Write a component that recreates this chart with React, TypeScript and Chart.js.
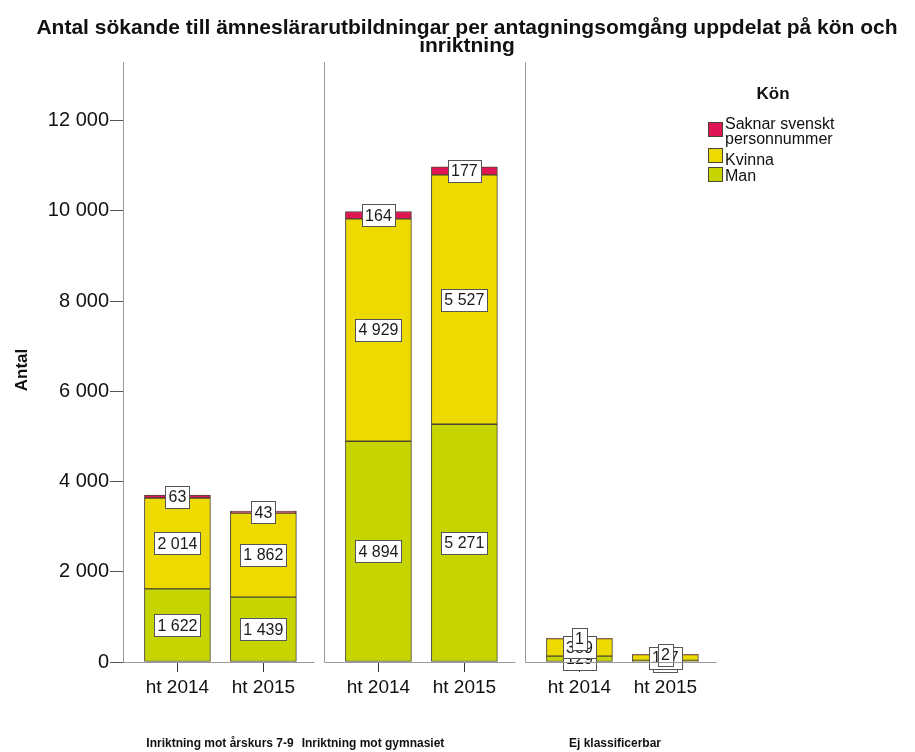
import React, { useEffect, useRef } from 'react';
import { Chart, registerables } from 'chart.js';

Chart.register(...registerables);

// ---------- data ----------
const categories = ['ht 2014', 'ht 2015'];
const panels = ['Inriktning mot årskurs 7-9', 'Inriktning mot gymnasiet', 'Ej klassificerbar'];
const seriesNames = ['Man', 'Kvinna', 'Saknar svenskt personnummer'];
const manValues = [1622, 1439, 4894, 5271, 129, 35];
const kvinnaValues = [2014, 1862, 4929, 5527, 389, 127];
const saknarValues = [63, 43, 164, 177, 1, 2];
const yTickValues = [0, 2000, 4000, 6000, 8000, 10000, 12000];

// ---------- layout / style ----------
const FONT = 'Arial, "Liberation Sans", Helvetica, sans-serif';
const CANVAS_W = 915;
const CANVAS_H = 752;
const AREA_LEFT = 123;
const AREA_RIGHT = 715;
const AREA_TOP = 62;
const AREA_BOTTOM = 662;
const X_MAX = AREA_RIGHT - AREA_LEFT;
const PANEL_STARTS = [0, 201, 402];
const PANEL_W = 191;
const BAR_FRAC = [0.285, 0.735];
const PANEL_LABEL_X = [97, 250, 492];
const Y_MAX = 13300;

const COLORS = {
  man: '#c6d500',
  kvinna: '#ecda00',
  saknar: '#df1654',
  border: '#4a4432',
  axis: '#9a9a9a',
};

const fmt = (v: number) => String(Math.round(v)).replace(/\B(?=(\d{3})+(?!\d))/g, ' ');

const barX = (i: number) => PANEL_STARTS[Math.floor(i / 2)] + BAR_FRAC[i % 2] * PANEL_W;
const toPoints = (vals: number[]) => vals.map((v, i) => ({ x: barX(i), y: v }));

const panelPlugin = {
  id: 'panelPlugin',
  afterDraw(chart: any) {
    const { ctx, chartArea, scales } = chart;
    const xs = scales.x;
    const y0 = scales.y.getPixelForValue(0);
    ctx.save();
    ctx.strokeStyle = COLORS.axis;
    ctx.lineWidth = 1;
    PANEL_STARTS.forEach((s) => {
      const x1 = Math.round(xs.getPixelForValue(s)) + 0.5;
      const x2 = Math.round(xs.getPixelForValue(s + PANEL_W)) + 0.5;
      ctx.beginPath();
      ctx.moveTo(x1, chartArea.top);
      ctx.lineTo(x1, Math.round(y0) + 0.5);
      ctx.lineTo(x2, Math.round(y0) + 0.5);
      ctx.stroke();
    });
    ctx.fillStyle = '#111';
    ctx.font = `bold 12px ${FONT}`;
    ctx.textAlign = 'center';
    ctx.textBaseline = 'middle';
    panels.forEach((label, p) => {
      ctx.fillText(label, xs.getPixelForValue(PANEL_LABEL_X[p]), 744);
    });
    // y axis title
    ctx.save();
    ctx.translate(22, 370);
    ctx.rotate(-Math.PI / 2);
    ctx.font = `bold 17px ${FONT}`;
    ctx.fillText('Antal', 0, 0);
    ctx.restore();
    ctx.restore();
  },
};

const labelPlugin = {
  id: 'labelPlugin',
  afterDatasetsDraw(chart: any) {
    const { ctx } = chart;
    ctx.save();
    ctx.font = `16px ${FONT}`;
    ctx.textAlign = 'center';
    ctx.textBaseline = 'middle';
    chart.data.datasets.forEach((ds: any, di: number) => {
      const meta = chart.getDatasetMeta(di);
      meta.data.forEach((el: any, i: number) => {
        const v = ds.data[i].y;
        const text = fmt(v);
        const cx = el.x;
        const cy = (el.y + el.base) / 2;
        const w = Math.round(ctx.measureText(text).width + 6);
        const h = 22;
        const bx = Math.round(cx - w / 2) + 0.5;
        const by = Math.round(cy - h / 2) + 0.5;
        ctx.fillStyle = '#ffffff';
        ctx.fillRect(bx, by, w, h);
        ctx.strokeStyle = '#555';
        ctx.lineWidth = 1;
        ctx.strokeRect(bx, by, w, h);
        ctx.fillStyle = '#1a1a1a';
        ctx.fillText(text, cx, cy + 1);
      });
    });
    ctx.restore();
  },
};

function ChartCanvas() {
  const ref = useRef<HTMLCanvasElement | null>(null);
  useEffect(() => {
    if (!ref.current) return;
    const common = {
      borderColor: COLORS.border,
      borderWidth: 1,
      borderSkipped: false,
      barThickness: 66,
    };
    const chart = new Chart(ref.current, {
      type: 'bar',
      data: {
        datasets: [
          { label: seriesNames[0], data: toPoints(manValues), backgroundColor: COLORS.man, ...common },
          { label: seriesNames[1], data: toPoints(kvinnaValues), backgroundColor: COLORS.kvinna, ...common },
          { label: seriesNames[2], data: toPoints(saknarValues), backgroundColor: COLORS.saknar, ...common },
        ],
      } as any,
      options: {
        animation: false,
        responsive: false,
        maintainAspectRatio: false,
        layout: { padding: { left: 0, top: AREA_TOP, right: CANVAS_W - AREA_RIGHT, bottom: 0 } },
        plugins: {
          legend: { display: false },
          tooltip: { enabled: false },
          title: { display: false },
        },
        scales: {
          x: {
            type: 'linear',
            stacked: true,
            min: 0,
            max: X_MAX,
            offset: false,
            afterFit: (scale: any) => {
              scale.height = CANVAS_H - AREA_BOTTOM;
            },
            afterBuildTicks: (scale: any) => {
              scale.ticks = manValues.map((_, i) => ({ value: barX(i) }));
            },
            border: { display: false },
            grid: {
              offset: false,
              drawOnChartArea: false,
              drawTicks: true,
              tickLength: 10,
              color: '#333',
            },
            ticks: {
              autoSkip: false,
              maxRotation: 0,
              padding: 4,
              color: '#111',
              font: { size: 19, family: FONT },
              callback: (_v: any, i: number) => categories[i % 2],
            },
          },
          y: {
            type: 'linear',
            stacked: true,
            min: 0,
            max: Y_MAX,
            afterFit: (scale: any) => {
              scale.width = AREA_LEFT;
            },
            afterBuildTicks: (scale: any) => {
              scale.ticks = yTickValues.map((v) => ({ value: v }));
            },
            border: { display: true, color: COLORS.axis, width: 1 },
            grid: {
              drawOnChartArea: false,
              drawTicks: true,
              tickLength: 13,
              color: '#555',
            },
            ticks: {
              padding: 1,
              color: '#111',
              font: { size: 20, family: FONT },
              callback: (v: any) => fmt(Number(v)),
            },
            title: { display: false },
          },
        },
      } as any,
      plugins: [panelPlugin, labelPlugin],
    });
    return () => chart.destroy();
  }, []);
  return <canvas ref={ref} width={CANVAS_W} height={CANVAS_H} style={{ position: 'absolute', left: 0, top: 0 }} />;
}

const legendItems = [
  { label: ['Saknar svenskt', 'personnummer'], color: COLORS.saknar, swatchTop: 122, textTop: 116 },
  { label: ['Kvinna'], color: COLORS.kvinna, swatchTop: 148, textTop: 152 },
  { label: ['Man'], color: COLORS.man, swatchTop: 167, textTop: 168 },
];

export default function App() {
  return (
    <div
      style={{
        position: 'absolute',
        left: 0,
        top: 0,
        width: CANVAS_W,
        height: CANVAS_H,
        background: '#fff',
        fontFamily: FONT,
        overflow: 'hidden',
      }}
    >
      <ChartCanvas />
      <div
        style={{
          position: 'absolute',
          left: 0,
          top: 18,
          width: 934,
          textAlign: 'center',
          fontWeight: 'bold',
          fontSize: 21,
          lineHeight: '18px',
          color: '#111',
          whiteSpace: 'nowrap',
        }}
      >
        Antal sökande till ämneslärarutbildningar per antagningsomgång uppdelat på kön och
        <br />
        inriktning
      </div>
      <div style={{ position: 'absolute', left: 733, top: 84, width: 80, textAlign: 'center', fontWeight: 'bold', fontSize: 17, color: '#111' }}>
        Kön
      </div>
      {legendItems.map((it, i) => (
        <React.Fragment key={i}>
          <div
            style={{
              position: 'absolute',
              left: 708,
              top: it.swatchTop,
              width: 13,
              height: 13,
              background: it.color,
              border: `1px solid ${COLORS.border}`,
            }}
          />
          <div style={{ position: 'absolute', left: 725, top: it.textTop, fontSize: 16, lineHeight: '15px', color: '#111', whiteSpace: 'nowrap' }}>
            {it.label.map((l, j) => (
              <div key={j}>{l}</div>
            ))}
          </div>
        </React.Fragment>
      ))}
    </div>
  );
}
